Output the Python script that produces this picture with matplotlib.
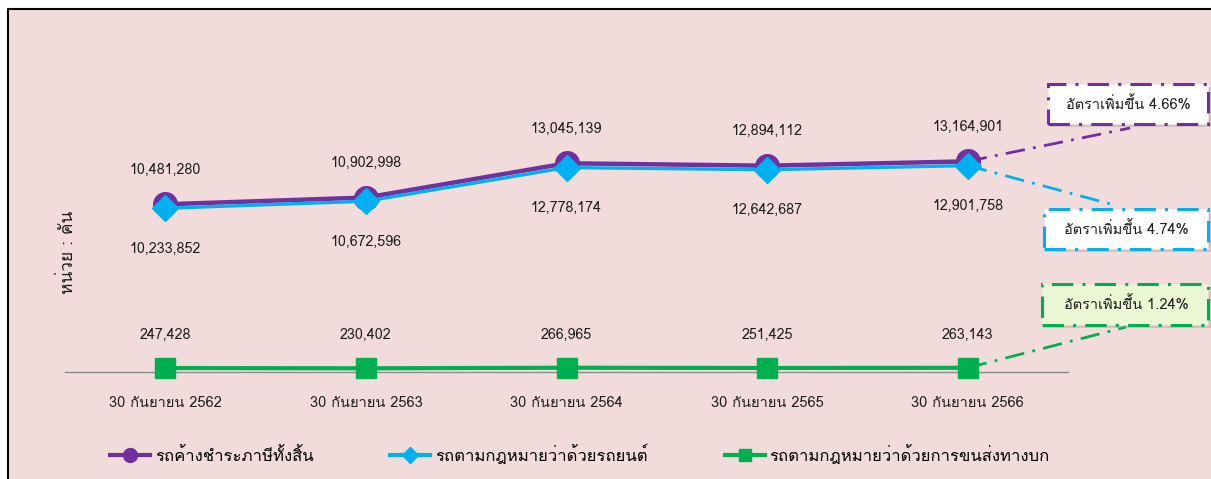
import matplotlib
matplotlib.use("Agg")
import matplotlib.pyplot as plt
import matplotlib.patches as patches
from matplotlib.lines import Line2D

plt.rcParams['font.family'] = ['Loma', 'Noto Sans Thai Looped', 'DejaVu Sans']

# data
dates = ['30 กันยายน 2562', '30 กันยายน 2563', '30 กันยายน 2564',
         '30 กันยายน 2565', '30 กันยายน 2566']
tax_total = [10481280, 10902998, 13045139, 12894112, 13164901]
car_act = [10233852, 10672596, 12778174, 12642687, 12901758]
transport_act = [247428, 230402, 266965, 251425, 263143]

series_names = ['รถค้างชำระภาษีทั้งสิ้น',
                'รถตามกฎหมายว่าด้วยรถยนต์',
                'รถตามกฎหมายว่าด้วยการขนส่งทางบก']
growth = ['4.66%', '4.74%', '1.24%']

PURPLE = '#7030a0'
BLUE = '#00b0f0'
GREEN = '#00b050'
BG = '#f2dcdb'
TXT = '#1e1e1e'

W, H = 1211, 479
fig = plt.figure(figsize=(W / 100, H / 100), dpi=100, facecolor='white')

# pink panel, black border only on the left and top
left, top = 8 / W, 1 - 9 / H
fig.patches.append(patches.Rectangle((left, 0), 1 - left, top,
                                     transform=fig.transFigure, facecolor=BG,
                                     edgecolor='none', zorder=-5))
fig.lines.append(Line2D([left, left, 1], [0, top, top], transform=fig.transFigure,
                        color='black', lw=1.5, zorder=-4))

ax = fig.add_axes([65 / W, (H - 372) / H, 1003 / W, 320 / H])
ax.set_facecolor('none')
ax.set_xlim(-0.5, 4.5)
ax.set_ylim(0, 20e6)
for s in ['top', 'right', 'left']:
    ax.spines[s].set_visible(False)
ax.spines['bottom'].set_color('#8c8c8c')
ax.spines['bottom'].set_linewidth(1.0)
ax.set_yticks([])
x = list(range(len(dates)))
ax.set_xticks(x)
ax.set_xticklabels(dates, fontsize=10.5, color=TXT)
ax.tick_params(axis='x', length=0, pad=17)

ax.plot(x, tax_total, color=PURPLE, lw=3.2, marker='o', ms=17, zorder=3,
        clip_on=False)
ax.plot(x, car_act, color=BLUE, lw=2.4, marker='D', ms=13, zorder=4,
        clip_on=False)
ax.plot(x, transport_act, color=GREEN, lw=3, marker='s', ms=14.5, zorder=4,
        clip_on=False)

for xi, v in zip(x, tax_total):
    ax.annotate(f'{v:,}', (xi, v), xytext=(0, 25), textcoords='offset points',
                ha='center', va='center', fontsize=10.3, color=TXT)
for xi, v in zip(x, car_act):
    ax.annotate(f'{v:,}', (xi, v), xytext=(0, -29), textcoords='offset points',
                ha='center', va='center', fontsize=10.3, color=TXT)
for xi, v in zip(x, transport_act):
    ax.annotate(f'{v:,}', (xi, v), xytext=(0, 24), textcoords='offset points',
                ha='center', va='center', fontsize=10.3, color=TXT)

# growth call-outs: connector end, box (x0, y0, y1), text centre
dashdot = (0, (7, 3, 1, 3))
box_right = 5.2
callouts = [
    (tax_total[-1], PURPLE, 'white', (4.81, 15.25e6), (4.40, 15.5e6, 18.0e6), (4.80, 16.75e6)),
    (car_act[-1], BLUE, 'white', (4.73, 10.44e6), (4.38, 7.7e6, 10.2e6), (4.79, 8.95e6)),
    (transport_act[-1], GREEN, '#ebf6d4', (4.79, 2.81e6), (4.37, 2.94e6, 5.5e6), (4.79, 4.22e6)),
]
for (v, col, face, end, box, tc), g in zip(callouts, growth):
    ax.plot([x[-1], end[0]], [v, end[1]], color=col, lw=2, ls=dashdot,
            clip_on=False, zorder=2)
    # soft drop shadow
    ax.add_patch(patches.Rectangle((box[0] + 0.012, box[1] - 0.2e6),
                                   box_right - box[0], box[2] - box[1],
                                   facecolor='#9a8a8a', alpha=0.35,
                                   edgecolor='none', clip_on=False, zorder=4))
    ax.add_patch(patches.Rectangle((box[0], box[1]), box_right - box[0],
                                   box[2] - box[1], facecolor=face,
                                   edgecolor=col, lw=2.2, ls=dashdot,
                                   clip_on=False, zorder=5))
    ax.text(tc[0], tc[1], 'อัตราเพิ่มขึ้น ' + g, ha='center', va='center',
            fontsize=10.5, color=TXT, zorder=6, clip_on=False)

fig.text(68 / W, 1 - 252 / H, 'หน่วย : คัน', rotation=90, ha='center',
         va='center', fontsize=12.5, color=TXT)

handles = [
    Line2D([], [], color=PURPLE, lw=3, marker='o', ms=10),
    Line2D([], [], color=BLUE, lw=3, marker='D', ms=8),
    Line2D([], [], color=GREEN, lw=3, marker='s', ms=9),
]
fig.legend(handles, series_names, loc='center left',
           bbox_to_anchor=(110 / W, 1 - 455 / H), ncol=3, frameon=False,
           fontsize=12, handlelength=2.4, handletextpad=0.3,
           columnspacing=4.6, borderpad=0, borderaxespad=0)

fig.savefig('out.png', dpi=100, facecolor='white')
